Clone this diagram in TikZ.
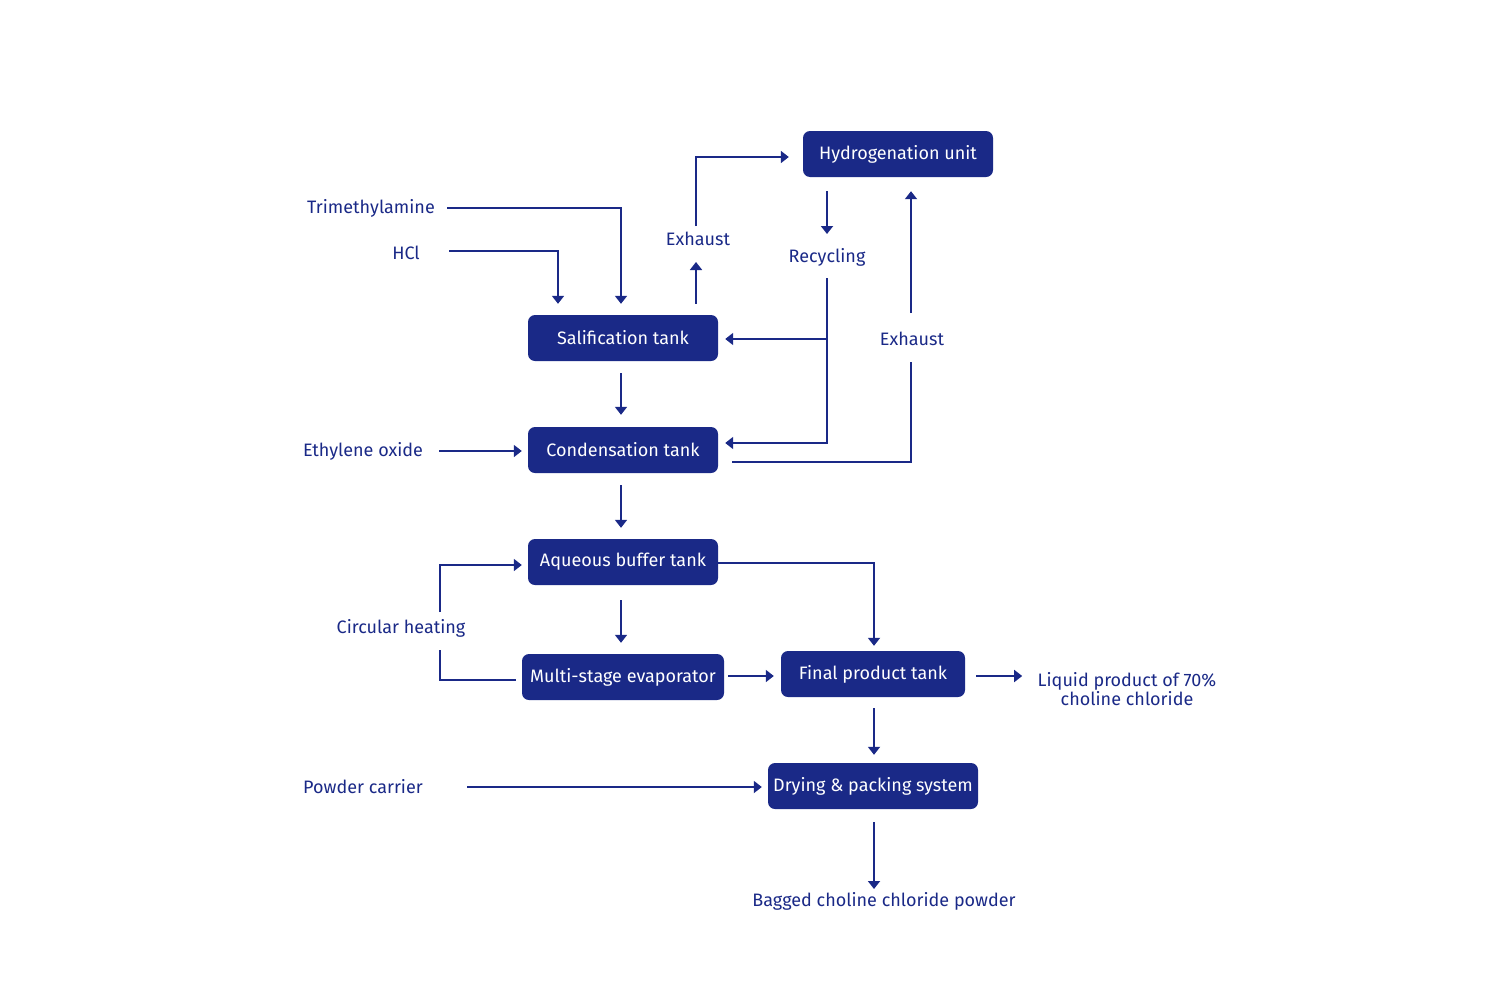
\documentclass[tikz,border=0pt]{standalone}
\usepackage{fontspec}
\setmainfont{Fira Sans}
\usetikzlibrary{arrows.meta,calc}
\definecolor{navy}{RGB}{26,41,135}
\tikzset{
  box/.style={fill=navy, rounded corners=7, text=white, minimum height=46, inner sep=0, font=\fontsize{18}{21}\selectfont},
  lbl/.style={text=navy, inner sep=0, font=\fontsize{18}{21}\selectfont, align=center},
  arr/.style={draw=navy, line width=1.8, -{Triangle[width=12,length=8]}},
  ln/.style={draw=navy, line width=1.8}
}
\newcommand{\bx}[1]{\raisebox{-2.5pt}{#1}}
\begin{document}
\begin{tikzpicture}[x=1pt,y=-1pt]
\path[use as bounding box] (0,0) rectangle (1485,993);
% boxes
\node[box, minimum width=190] (hyd) at (898,154) {\bx{Hydrogenation unit}};
\node[box, minimum width=190] (sal) at (623,338) {\bx{Salification tank}};
\node[box, minimum width=190] (cond) at (623,450) {\bx{Condensation tank}};
\node[box, minimum width=190] (aq) at (623,562) {\bx{Aqueous buffer tank}};
\node[box, minimum width=202] (evap) at (623,677) {\bx{Multi-stage evaporator}};
\node[box, minimum width=184] (fin) at (873,674) {\bx{Final product tank}};
\node[box, minimum width=210] (dry) at (873,786) {\bx{Drying \& packing system}};
% labels
\node[lbl] (tri) at (371,208) {Trimethylamine};
\node[lbl] (hcl) at (406,253) {HCl};
\node[lbl] (exh1) at (698,239) {Exhaust};
\node[lbl] (rec) at (827,257) {Recycling};
\node[lbl] (exh2) at (912,339) {Exhaust};
\node[lbl] (eth) at (363,451) {Ethylene oxide};
\node[lbl] (circ) at (401,628) {Circular heating};
\node[lbl] (liq) at (1127,689) {Liquid product of 70\%\\[-2pt]choline chloride};
\node[lbl] (pow) at (363,787) {Powder carrier};
\node[lbl] (bag) at (884,901) {Bagged choline chloride powder};
% connectors
\draw[arr] ($(tri)+(76,0)$) -| ($(sal.north)+(-2,-11)$);
\draw[arr] ($(hcl)+(43,-2)$) -| ($(sal.north)+(-65,-11)$);
\draw[arr] ($(sal.north)+(73,-11)$) -- ($(exh1)+(-2,23)$);
\draw[arr] ($(exh1)+(-2,-13)$) |- ($(hyd.west)+(-14,3)$);
\draw[arr] ($(hyd.south)+(-71,14)$) -- ($(rec)+(0,-23)$);
\draw[arr] ($(rec)+(0,21)$) |- ($(cond.east)+(7,-7)$);
\draw[arr] ($(rec)+(0,82)$) -- ($(sal.east)+(7,1)$);
\draw[ln] ($(cond.east)+(14,12)$) -| ($(exh2)+(-1,23)$);
\draw[arr] ($(exh2)+(-1,-26)$) -- ($(hyd.south)+(13,14)$);
\draw[arr] ($(sal.south)+(-2,12)$) -- ($(cond.north)+(-2,-12)$);
\draw[arr] ($(eth)+(76,0)$) -- ($(cond.west)+(-6,1)$);
\draw[arr] ($(cond.south)+(-2,12)$) -- ($(aq.north)+(-2,-11)$);
\draw[arr] ($(aq.east)+(0,1)$) -| ($(fin.north)+(1,-5)$);
\draw[arr] ($(aq.south)+(-2,15)$) -- ($(evap.north)+(-2,-11)$);
\draw[ln] ($(evap.west)+(-6,3)$) -| ($(circ)+(39,22)$);
\draw[arr] ($(circ)+(39,-16)$) |- ($(aq.west)+(-6,3)$);
\draw[arr] ($(evap.east)+(4,-1)$) -- ($(fin.west)+(-7,2)$);
\draw[arr] ($(fin.east)+(11,2)$) -- ($(fin.east)+(57,2)$);
\draw[arr] ($(fin.south)+(1,11)$) -- ($(dry.north)+(1,-8)$);
\draw[arr] ($(pow)+(104,0)$) -- ($(dry.west)+(-6,1)$);
\draw[arr] ($(dry.south)+(1,13)$) -- ($(bag)+(-10,-12)$);
\end{tikzpicture}
\end{document}
